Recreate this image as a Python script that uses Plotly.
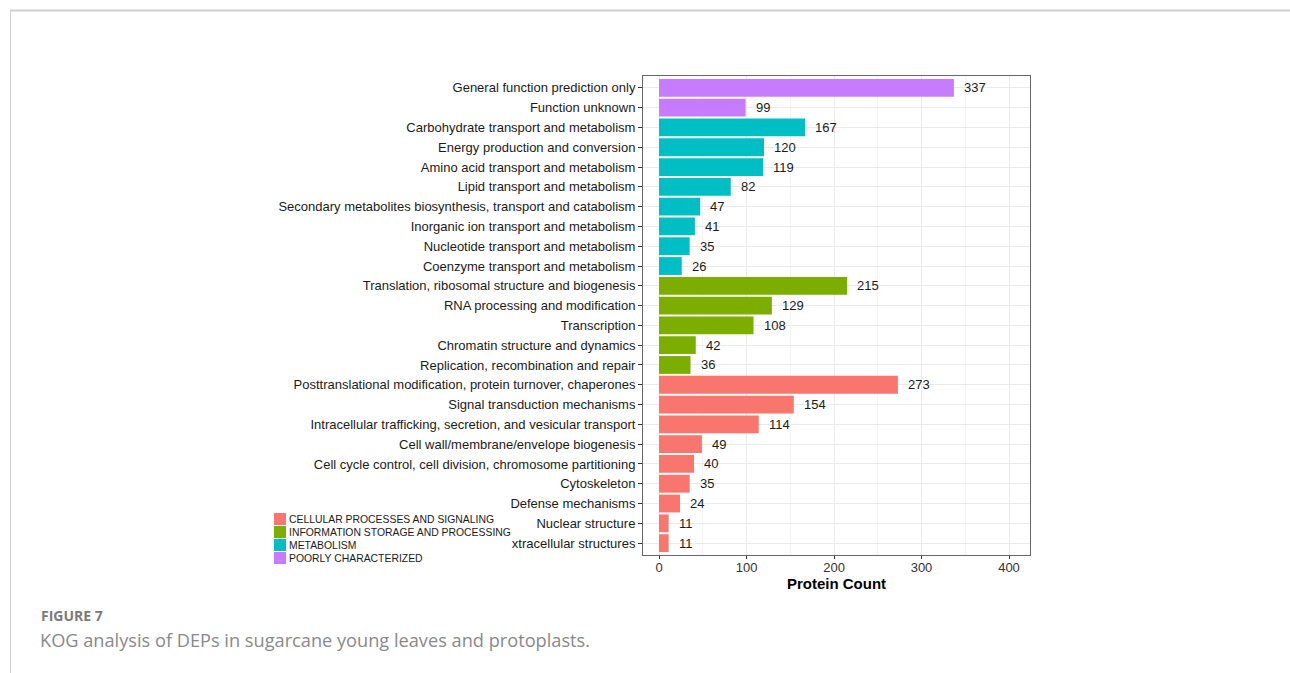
import plotly.graph_objects as go

W, H = 1290, 673

categories = [
    "General function prediction only", "Function unknown",
    "Carbohydrate transport and metabolism", "Energy production and conversion",
    "Amino acid transport and metabolism", "Lipid transport and metabolism",
    "Secondary metabolites biosynthesis, transport and catabolism",
    "Inorganic ion transport and metabolism", "Nucleotide transport and metabolism",
    "Coenzyme transport and metabolism",
    "Translation, ribosomal structure and biogenesis", "RNA processing and modification",
    "Transcription", "Chromatin structure and dynamics", "Replication, recombination and repair",
    "Posttranslational modification, protein turnover, chaperones",
    "Signal transduction mechanisms",
    "Intracellular trafficking, secretion, and vesicular transport",
    "Cell wall/membrane/envelope biogenesis",
    "Cell cycle control, cell division, chromosome partitioning",
    "Cytoskeleton", "Defense mechanisms", "Nuclear structure", "xtracellular structures",
]
counts = [337, 99, 167, 120, 119, 82, 47, 41, 35, 26, 215, 129, 108, 42, 36,
          273, 154, 114, 49, 40, 35, 24, 11, 11]
groups = (["POORLY CHARACTERIZED"] * 2 + ["METABOLISM"] * 8 +
          ["INFORMATION STORAGE AND PROCESSING"] * 5 +
          ["CELLULAR PROCESSES AND SIGNALING"] * 9)
group_names = ["CELLULAR PROCESSES AND SIGNALING", "INFORMATION STORAGE AND PROCESSING",
               "METABOLISM", "POORLY CHARACTERIZED"]
group_colors = ["#F8766D", "#7CAE00", "#00BFC4", "#C77CFF"]
x_ticks = [0, 100, 200, 300, 400]

cmap = dict(zip(group_names, group_colors))
fig = go.Figure()
fig.add_trace(go.Bar(
    x=counts, y=categories, orientation="h", width=0.9,
    marker=dict(color=[cmap[g] for g in groups], line=dict(width=0)),
    showlegend=False, hoverinfo="x+y",
))

for c, v in zip(categories, counts):
    fig.add_annotation(x=v, y=c, text=str(v), showarrow=False, xanchor="left",
                       xshift=8, font=dict(size=13, color="#1a1a1a",
                                           family="Liberation Sans, Arial, sans-serif"))

# panel placement
px0, px1, py0, py1 = 643, 1030, 76, 555
fig.update_layout(
    width=W, height=H, margin=dict(l=0, r=0, t=0, b=0),
    paper_bgcolor="white", plot_bgcolor="white",
    font=dict(family="Liberation Sans, Arial, sans-serif", color="#1a1a1a"),
    xaxis=dict(domain=[px0 / W, px1 / W], range=[-18.3, 424], tickvals=x_ticks,
               showgrid=True, gridcolor="#EBEBEB", gridwidth=1,
               minor=dict(dtick=50, tick0=0, showgrid=True, gridcolor="#F5F5F5", gridwidth=1),
               zeroline=False, showline=True, mirror=True, linecolor="#666666", linewidth=1,
               ticks="outside", ticklen=3, tickcolor="#333333", ticklabelstandoff=-3,
               tickfont=dict(size=13, color="#333333"), automargin=False,
               title=dict(text="<b>Protein Count</b>", font=dict(size=15, color="#000000"),
                          standoff=0)),
    yaxis=dict(domain=[1 - py1 / H, 1 - py0 / H], type="category",
               categoryorder="array", categoryarray=categories,
               range=[len(categories) - 1 + 0.6, -0.6],
               showgrid=True, gridcolor="#EBEBEB", gridwidth=1,
               zeroline=False, showline=True, mirror=True, linecolor="#666666", linewidth=1,
               ticks="outside", ticklen=4, tickcolor="#333333",
               tickfont=dict(size=13, color="#1a1a1a"), automargin=False),
    bargap=0.1,
)

# manual legend
leg_rows_y = [519, 532, 545, 558]
for name, col, yy in zip(group_names, group_colors, leg_rows_y):
    fig.add_shape(type="rect", xref="paper", yref="paper",
                  x0=274 / W, x1=286 / W, y0=1 - (yy + 6) / H, y1=1 - (yy - 6) / H,
                  fillcolor=col, line=dict(width=0))
    fig.add_annotation(xref="paper", yref="paper", x=287 / W, y=1 - yy / H, text=name,
                       showarrow=False, xanchor="left", yanchor="middle",
                       font=dict(size=10.4, color="#1a1a1a"))

# page frame lines
fig.add_shape(type="line", xref="paper", yref="paper", x0=10 / W, x1=1, y0=1 - 10.5 / H,
              y1=1 - 10.5 / H, line=dict(color="#d0d0d0", width=2))
fig.add_shape(type="line", xref="paper", yref="paper", x0=10.5 / W, x1=10.5 / W, y0=0,
              y1=1 - 10 / H, line=dict(color="#d0d0d0", width=1))

# caption
fig.add_annotation(xref="paper", yref="paper", x=39 / W, y=1 - 615 / H, text="<b>FIGURE 7</b>",
                   showarrow=False, xanchor="left", yanchor="middle",
                   font=dict(size=14, color="#7a7a7a", family="Open Sans, sans-serif"))
fig.add_annotation(xref="paper", yref="paper", x=38 / W, y=1 - 640 / H,
                   text="KOG analysis of DEPs in sugarcane young leaves and protoplasts.",
                   showarrow=False, xanchor="left", yanchor="middle",
                   font=dict(size=18.2, color="#8a8a8a", family="Open Sans, sans-serif"))

fig.write_html("out.html")
